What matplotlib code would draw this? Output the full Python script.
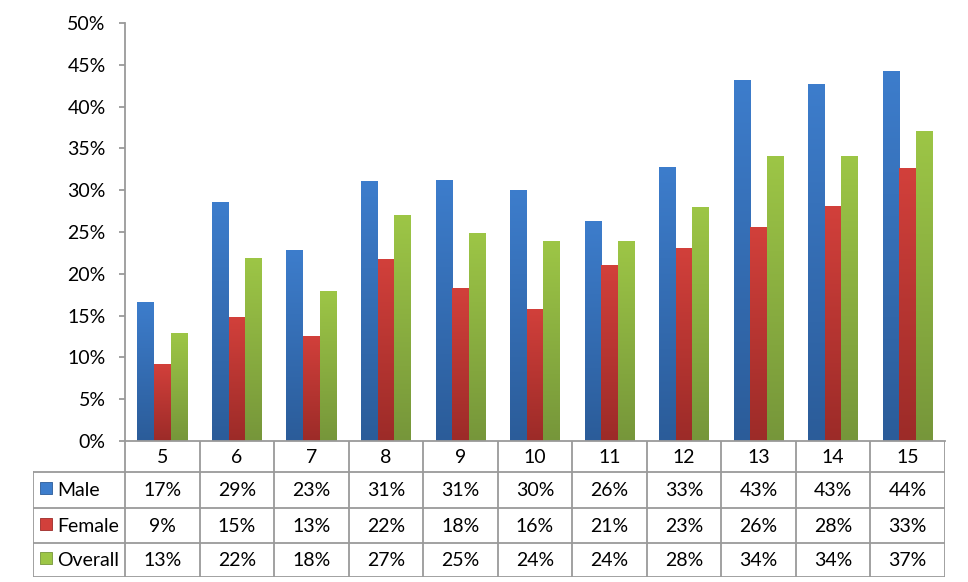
import numpy as np
import matplotlib
matplotlib.use('Agg')
import matplotlib.pyplot as plt
from matplotlib.colors import LinearSegmentedColormap

plt.rcParams['font.family'] = ['Lato', 'DejaVu Sans']

# ---------- data ----------
grades = ['5', '6', '7', '8', '9', '10', '11', '12', '13', '14', '15']
male = [16.6, 28.6, 22.8, 31.1, 31.2, 30.0, 26.3, 32.8, 43.2, 42.7, 44.3]
female = [9.2, 14.8, 12.6, 21.8, 18.3, 15.8, 21.1, 23.1, 25.6, 28.1, 32.6]
overall = [12.9, 21.9, 17.9, 27.0, 24.9, 23.9, 23.9, 28.0, 34.1, 34.1, 37.1]
series_names = ['Male', 'Female', 'Overall']

# top / bottom colours of the gradient fills
colors = [('#3D7DCC', '#2B5C99'),
          ('#D2403B', '#9C2B28'),
          ('#9DC646', '#76963A')]

W, H = 968, 582
fig = plt.figure(figsize=(W / 100, H / 100), dpi=100)

# ---------- bar chart ----------
px_left, px_right, px_top, px_zero = 125, 945, 23, 441
ax = fig.add_axes([px_left / W, 1 - px_zero / H,
                   (px_right - px_left) / W, (px_zero - px_top) / H])

n = len(grades)
x = np.arange(n)
bw = 0.223
axis_grey = '#9A9A9A'

for k, vals in enumerate([male, female, overall]):
    c_top, c_bot = colors[k]
    cmap = LinearSegmentedColormap.from_list(f'g{k}', [c_bot, c_top])
    for i, v in enumerate(vals):
        xc = x[i] + (k - 1) * bw
        bar = ax.bar(xc, v, bw, color='none', edgecolor='none', zorder=2)[0]
        img = ax.imshow(np.linspace(0, 1, 256).reshape(-1, 1), cmap=cmap,
                        origin='lower', extent=[xc - bw / 2, xc + bw / 2, 0, v],
                        aspect='auto', zorder=2, interpolation='bilinear')
        img.set_clip_path(bar)

ax.set_xlim(-0.5, n - 0.5)
ax.set_ylim(0, 50)
ax.set_yticks(np.arange(0, 51, 5))
ax.set_yticklabels([f'{t}%' for t in range(0, 51, 5)])
ax.set_xticks([])
for s in ['top', 'right']:
    ax.spines[s].set_visible(False)
for s in ['left', 'bottom']:
    ax.spines[s].set_color(axis_grey)
    ax.spines[s].set_linewidth(1.3)
ax.tick_params(axis='y', direction='out', length=4, width=1.3, color=axis_grey,
               pad=10, labelsize=14, labelcolor='black')
ax.patch.set_alpha(0)

# ---------- data table ----------
tbl_left, tbl_bottom = 33, 577
unit = (px_right - px_left) / n
x_left = -0.5 - (px_left - tbl_left) / unit
tx = fig.add_axes([tbl_left / W, 1 - tbl_bottom / H,
                   (px_right - tbl_left) / W, (tbl_bottom - px_zero) / H])
tx.set_xlim(x_left, n - 0.5)
row_edges = [0, 31, 67, 102, 136]
tx.set_ylim(row_edges[-1], 0)
tx.axis('off')

lw = 1.3
for i in range(n + 1):
    tx.plot([i - 0.5, i - 0.5], [0, row_edges[-1]], color=axis_grey, lw=lw,
            solid_capstyle='projecting')
tx.plot([x_left, x_left], [row_edges[1], row_edges[-1]], color=axis_grey, lw=lw,
        solid_capstyle='projecting')
for y in row_edges[1:]:
    tx.plot([x_left, n - 0.5], [y, y], color=axis_grey, lw=lw,
            solid_capstyle='projecting')

fs = 14
for i, g in enumerate(grades):
    tx.text(i, (row_edges[0] + row_edges[1]) / 2 + 1, g, ha='center', va='center',
            fontsize=fs)

for r, (name, vals) in enumerate(zip(series_names, [male, female, overall])):
    yc = (row_edges[r + 1] + row_edges[r + 2]) / 2 + 1
    tx.scatter(x_left + 13 / unit, yc - 3, marker='s', s=75,
               color=colors[r][0], edgecolors=colors[r][1], linewidths=0.6)
    tx.text(x_left + 24 / unit, yc, name, ha='left', va='center', fontsize=fs)
    for i, v in enumerate(vals):
        tx.text(i, yc, f'{v:.0f}%', ha='center', va='center', fontsize=fs)

fig.savefig('out.png', dpi=100)
